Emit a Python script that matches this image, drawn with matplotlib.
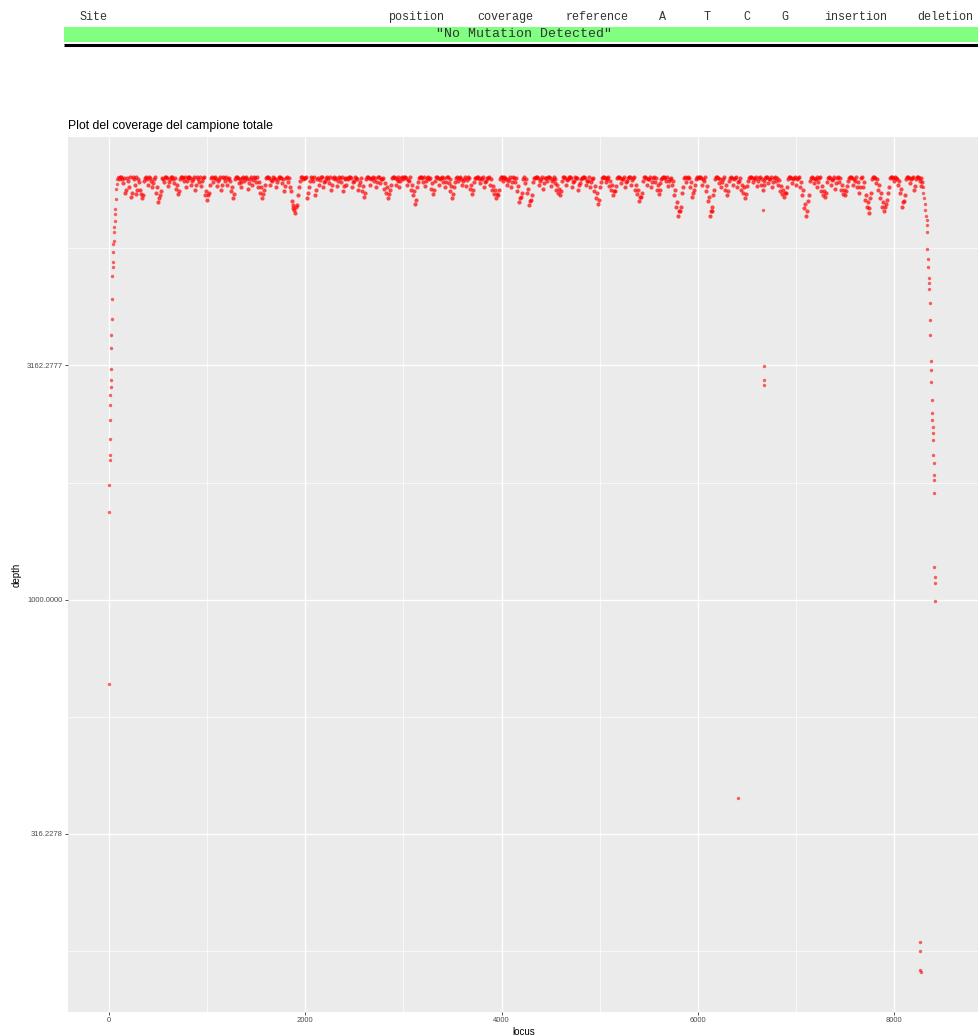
import numpy as np
import matplotlib
matplotlib.use("Agg")
import matplotlib.pyplot as plt
from matplotlib.patches import Rectangle
from matplotlib.ticker import FixedLocator, FixedFormatter

plt.rcParams['font.family'] = ['Liberation Sans', 'DejaVu Sans']

# intestazione della tabella delle mutazioni
columns = ['Site', 'position', 'coverage', 'reference', 'A', 'T', 'C', 'G',
           'insertion', 'deletion']
no_mutation = '"No Mutation Detected"'

# coverage: salita iniziale (locus, depth)
ramp_locus = [1, 2, 3, 5, 7, 9, 11, 13, 15, 17, 19, 21, 23, 25, 27, 30,
              33, 36, 39, 42, 45, 48, 51, 54, 57, 60, 63, 67, 72, 78, 84, 90]
ramp_depth = [659, 1540, 1760, 1990, 2040, 2200, 2420, 2610, 2740, 2840,
              2950, 3115, 3440, 3680, 3970, 4380, 4910, 5130, 5260, 5520,
              5740, 5830, 6100, 6250, 6430, 6650, 6820, 7170, 7530, 7720,
              7900, 8000]

# plateau, loci pari: un valore ogni 20 basi da 100 a 8280
depth_0k = [7900, 8000, 7750, 7400, 7950, 7600, 7250, 7980, 7700, 7350,
            7900, 7500, 7200, 7850, 8000, 7700, 7950, 7600, 7900, 7400,
            7050, 7300, 7950, 7800, 8000, 7650, 7900, 7980, 7750, 7550,
            7350, 7900, 8000, 7850, 7600, 7950, 8000, 7700, 7900, 7500,
            7980, 7800, 7650, 7950, 7300]
depth_1k = [7150, 7400, 7950, 7800, 8000, 7650, 7900, 7500, 7980, 7850,
            7700, 7950, 7450, 7200, 7900, 8000, 7750, 7600, 7950, 7850,
            8000, 7550, 7900, 7700, 7980, 7800, 7600, 7400, 7200, 7500,
            7950, 8000, 7700, 7850, 7950, 7600, 7900, 8000, 7750, 7450,
            7950, 7800, 7600, 7100, 6850, 6700, 6950, 7600, 7980, 7900]
depth_2k = [7950, 7200, 7600, 8000, 7850, 7300, 7900, 7700, 7980, 7600,
            7850, 8000, 7750, 7500, 7950, 7900, 7650, 8000, 7800, 7450,
            7950, 7700, 7900, 8000, 7600, 7850, 7950, 7500, 7800, 7450,
            7250, 7900, 8000, 7700, 7950, 7850, 7600, 7980, 7750, 7900,
            7550, 7400, 7200, 7500, 7950, 8000, 7700, 7850, 7600, 7950]
depth_3k = [7900, 8000, 7700, 7850, 7500, 7300, 7000, 7600, 7950, 8000,
            7800, 7650, 7950, 7900, 7550, 7350, 7850, 8000, 7700, 7950,
            7800, 7600, 7980, 7750, 7450, 7200, 7600, 7950, 7850, 8000,
            7700, 7900, 7650, 7980, 7550, 7350, 7800, 7950, 8000, 7750,
            7900, 7600, 7850, 7950, 7700, 7500, 7350, 7200, 7300, 7900]
depth_4k = [8000, 7850, 7950, 7700, 7900, 7600, 8000, 7800, 7450, 7050,
            7250, 7900, 7750, 7400, 6950, 7150, 7800, 7950, 8000, 7700,
            7900, 7550, 7950, 7850, 8000, 7650, 7900, 7750, 7500, 7400,
            7300, 7850, 7980, 7700, 7900, 8000, 7600, 7850, 7950, 7500,
            7750, 7950, 8000, 7700, 7850, 7600, 7900, 7450, 7200, 7000]
depth_5k = [7600, 7950, 8000, 7800, 7900, 7650, 7500, 7300, 7450, 7950,
            8000, 7750, 7900, 7600, 7850, 7980, 7700, 7950, 7500, 7350,
            7100, 7250, 7850, 8000, 7700, 7900, 7600, 7950, 7800, 7500,
            7350, 7750, 7950, 8000, 7850, 7650, 7900, 7700, 7300, 6900,
            6600, 6750, 7400, 7950, 7800, 8000, 7600, 7250, 7500, 7900]
depth_6k = [7950, 8000, 7700, 7850, 7450, 7100, 6600, 6750, 7300, 7900,
            7980, 7750, 7600, 7900, 7500, 7300, 7850, 8000, 7700, 7950,
            7600, 7850, 7500, 7400, 7200, 7650, 7950, 8000, 7800, 7900,
            7650, 7950, 7700, 7500, 7850, 8000, 7750, 7900, 7600, 7950,
            7850, 7700, 7450, 7350, 7250, 7400, 7900, 8000, 7750, 7950]
depth_7k = [7700, 7950, 7600, 7300, 6850, 6600, 7100, 7850, 8000, 7750,
            7900, 7600, 7950, 7450, 7300, 7250, 7800, 8000, 7700, 7900,
            7550, 7950, 7800, 7500, 7350, 7300, 7650, 7950, 8000, 7700,
            7850, 7600, 7400, 7950, 7600, 7150, 6900, 6700, 7200, 7900,
            8000, 7750, 7500, 7200, 6900, 6750, 7000, 7400, 7950, 8000]
depth_8k = [7850, 7950, 7700, 7400, 6900, 7100, 7900, 8000, 7750, 7950,
            7500, 7900, 8000, 7850, 7650]

# plateau, loci dispari: un valore ogni 20 basi da 110 a 8290
depth_0k_b = [8000, 7900, 7950, 7500, 7850, 7980, 7400, 7900, 8000, 7500,
              7800, 7350, 7300, 7950, 7900, 8000, 7850, 7750, 8000, 7600,
              7200, 7450, 7900, 8000, 7950, 7800, 8000, 7900, 7950, 7700,
              7450, 8000, 7950, 7980, 7850, 8000, 7950, 7850, 8000, 7700,
              7900, 7980, 7850, 8000, 7450]
depth_1k_b = [7300, 7700, 8000, 7950, 7900, 7850, 8000, 7700, 7950, 8000,
              7900, 7850, 7600, 7350, 8000, 7950, 7900, 7800, 8000, 7950,
              7900, 7750, 8000, 7880, 7950, 8000, 7800, 7600, 7350, 7700,
              8000, 7950, 7880, 8000, 7900, 7800, 8000, 7950, 7900, 7650,
              8000, 7950, 7450, 6950, 6800, 6900, 7300, 7850, 8000, 7950]
depth_2k_b = [8000, 7400, 7850, 7950, 8000, 7500, 7950, 7880, 8000, 7800,
              7950, 7900, 8000, 7700, 8000, 7950, 7850, 7950, 8000, 7650,
              7900, 7950, 8000, 7950, 7800, 8000, 7900, 7700, 7950, 7650,
              7400, 8000, 7950, 7900, 8000, 7950, 7800, 8000, 7900, 7950,
              7750, 7600, 7350, 7700, 8000, 7950, 7900, 8000, 7850, 8000]
depth_3k_b = [8000, 7950, 7880, 8000, 7700, 7450, 7150, 7800, 8000, 7950,
              7980, 7850, 8000, 7950, 7750, 7500, 8000, 7950, 7900, 8000,
              7950, 7800, 8000, 7900, 7650, 7350, 7800, 8000, 7950, 7900,
              7850, 8000, 7880, 7950, 7700, 7500, 7950, 8000, 7900, 7950,
              8000, 7800, 7950, 8000, 7900, 7650, 7500, 7350, 7500, 8000]
depth_4k_b = [7950, 8000, 7900, 7850, 8000, 7800, 7950, 7950, 7650, 7200,
              7400, 8000, 7900, 7550, 7100, 7300, 7950, 8000, 7950, 7850,
              8000, 7750, 7950, 8000, 7950, 7850, 8000, 7900, 7700, 7550,
              7450, 8000, 7950, 7880, 8000, 7950, 7800, 8000, 7950, 7700,
              7900, 8000, 7950, 7850, 8000, 7800, 7950, 7650, 7400, 7150]
depth_5k_b = [7800, 8000, 7950, 7950, 8000, 7850, 7700, 7450, 7650, 8000,
              7950, 7900, 8000, 7800, 7950, 8000, 7880, 8000, 7700, 7500,
              7250, 7400, 8000, 7950, 7900, 8000, 7800, 8000, 7950, 7700,
              7500, 7900, 8000, 7950, 8000, 7850, 7950, 7850, 7500, 7050,
              6750, 6900, 7600, 8000, 7950, 7950, 7800, 7400, 7700, 8000]
depth_6k_b = [8000, 7950, 7900, 8000, 7650, 7250, 6750, 6900, 7500, 8000,
              7950, 7900, 7800, 8000, 7700, 7450, 7950, 7950, 7900, 8000,
              7800, 7950, 7700, 7600, 7350, 7850, 8000, 7950, 7950, 8000,
              7850, 8000, 7900, 7700, 7950, 7980, 7900, 8000, 7800, 8000,
              7950, 7880, 7650, 7500, 7400, 7600, 8000, 7950, 7900, 8000]
depth_7k_b = [7900, 8000, 7800, 7500, 7000, 6750, 7300, 7950, 7950, 7900,
              8000, 7800, 8000, 7650, 7450, 7400, 7950, 7950, 7880, 8000,
              7750, 8000, 7950, 7700, 7500, 7450, 7850, 8000, 7950, 7900,
              8000, 7800, 7600, 8000, 7800, 7300, 7050, 6850, 7400, 8000,
              7950, 7900, 7700, 7400, 7050, 6900, 7150, 7600, 8000, 7950]
depth_8k_b = [8000, 7900, 7850, 7550, 7050, 7300, 8000, 7950, 7900, 8000,
              7650, 8000, 7950, 7950, 7800]

# discesa finale
tail_locus = [8292, 8298, 8306, 8314, 8320, 8326, 8332, 8336, 8338, 8340,
              8344, 8350, 8356, 8358, 8360, 8364, 8366, 8368, 8372, 8376,
              8380, 8384, 8387, 8390, 8393, 8396, 8399, 8402, 8404, 8406,
              8408, 8410, 8412, 8414, 8416, 8418]
tail_depth = [7600, 7400, 7200, 7000, 6800, 6600, 6470, 6300, 6100, 5600,
              5350, 5140, 4870, 4740, 4610, 4300, 3950, 3680, 3226, 3100,
              2909, 2674, 2508, 2421, 2340, 2273, 2197, 2039, 1961, 1848,
              1803, 1691, 1175, 1118, 1085, 993]

# punti isolati
out_locus = [6410, 6665, 6670, 6674, 6678, 8265, 8266, 8268, 8270]
out_depth = [376, 6790, 3160, 2950, 2870, 186, 178, 162, 160]

plateau_a = (depth_0k + depth_1k + depth_2k + depth_3k + depth_4k +
             depth_5k + depth_6k + depth_7k + depth_8k)
plateau_b = (depth_0k_b + depth_1k_b + depth_2k_b + depth_3k_b + depth_4k_b +
             depth_5k_b + depth_6k_b + depth_7k_b + depth_8k_b)
locus_a = np.arange(100, 100 + 20 * len(plateau_a), 20)
locus_b = np.arange(110, 110 + 20 * len(plateau_b), 20)

plateau_locus = np.concatenate([locus_a, locus_b])
plateau_depth = np.concatenate([plateau_a, plateau_b])
edge_locus = np.concatenate([ramp_locus, tail_locus, out_locus])
edge_depth = np.concatenate([ramp_depth, tail_depth, out_depth])
all_depth = np.concatenate([plateau_depth, edge_depth])

W, H = 979, 1035
fig = plt.figure(figsize=(W / 100, H / 100), dpi=100)

# --- tabella in alto ---
head = fig.add_axes([0, 1 - 50 / H, 1, 50 / H])
head.set_xlim(0, W)
head.set_ylim(50, 0)
head.axis('off')
head.add_patch(Rectangle((64, 27), W - 64, 15, facecolor='#80FF80', lw=0))
head.plot([64, W], [45, 45], color='black', lw=2.2, solid_capstyle='butt')
col_x = [80, 416, 505, 597, 663, 707, 747, 785, 856, 945]
for name, cx in zip(columns, col_x):
    head.text(cx, 17, name, ha='left' if name == 'Site' else 'center',
              va='center', fontsize=8.5, family='Liberation Mono', color='#333333')
head.text(524, 34, no_mutation, ha='center', va='center', fontsize=9.5,
          family='Liberation Mono', color='#333333')

# --- grafico del coverage ---
left, right, top, bottom = 68, 979, 137, 1012
ax = fig.add_axes([left / W, (H - bottom) / H, (right - left) / W, (bottom - top) / H])
ax.set_facecolor('#EBEBEB')
ax.set_yscale('log')

# il plateau è denso (una base per punto), i punti ai bordi sono isolati
ax.scatter(plateau_locus, plateau_depth, s=9, color='red', alpha=0.7,
           linewidths=0, zorder=3)
ax.scatter(edge_locus, edge_depth, s=6, color='red', alpha=0.6,
           linewidths=0, zorder=3)

ax.set_xlim(-418, 8866)
lo, hi = np.log10(all_depth.min()), np.log10(all_depth.max())
pad = 0.05 * (hi - lo)
ax.set_ylim(10 ** (lo - pad), 10 ** (hi + pad))

ax.set_xticks([0, 2000, 4000, 6000, 8000])
ax.set_xticks([1000, 3000, 5000, 7000], minor=True)
ymaj = [10 ** 2.5, 10 ** 3, 10 ** 3.5]
ax.yaxis.set_major_locator(FixedLocator(ymaj))
ax.yaxis.set_major_formatter(FixedFormatter(['%.4f' % v for v in ymaj]))
ax.yaxis.set_minor_locator(FixedLocator([10 ** 2.25, 10 ** 2.75, 10 ** 3.25, 10 ** 3.75]))
ax.yaxis.set_minor_formatter(FixedFormatter([]))

ax.grid(which='major', color='white', lw=1.0, zorder=0)
ax.grid(which='minor', color='white', lw=0.5, zorder=0)
ax.set_axisbelow(True)
for sp in ax.spines.values():
    sp.set_visible(False)

ax.tick_params(which='major', length=2.2, width=0.6, color='#333333',
               labelsize=5.5, labelcolor='#4D4D4D', pad=1.5)
ax.tick_params(which='minor', length=0)

ax.set_xlabel('locus', fontsize=7, labelpad=2)
ax.set_ylabel('depth', fontsize=7, labelpad=4)
ax.set_title('Plot del coverage del campione totale', loc='left', fontsize=8.8, pad=6)

fig.savefig('out.png', dpi=100)
